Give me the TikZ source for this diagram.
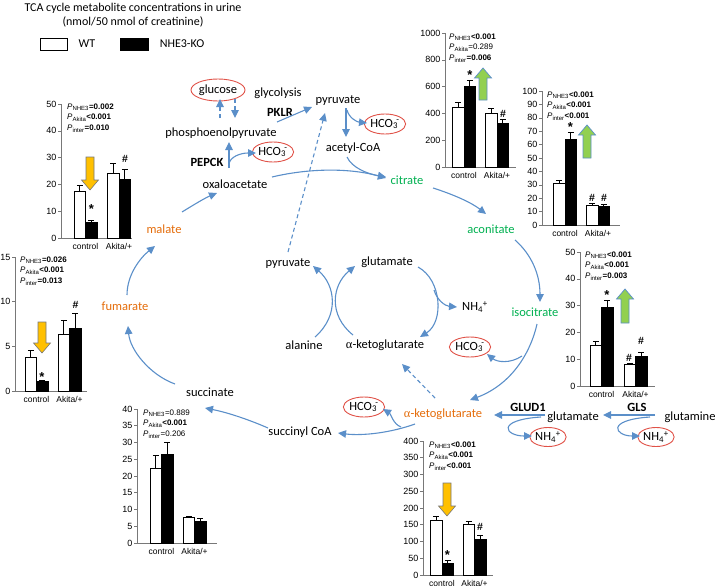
\documentclass[tikz,border=0pt]{standalone}
\usepackage{fontspec}
\setmainfont{Carlito}
\newfontfamily\chartfont{Liberation Sans}
\newfontfamily\grk{Liberation Serif}
\usetikzlibrary{arrows.meta,shapes.geometric}
\definecolor{flow}{RGB}{91,143,201}
\definecolor{ered}{RGB}{224,82,72}
\definecolor{orng}{RGB}{228,108,10}
\definecolor{grn}{RGB}{0,176,80}
\definecolor{yel}{RGB}{255,192,0}
\definecolor{lgrn}{RGB}{146,208,80}
\definecolor{axgray}{RGB}{120,120,120}
\tikzset{
  lbl/.style={font=\fontsize{12.5}{15}\selectfont, inner sep=0.5pt},
  enz/.style={font=\fontsize{12.5}{15}\selectfont\bfseries, inner sep=0.5pt},
  flowarr/.style={draw=flow, line width=1.1pt, -{Triangle[length=8pt,width=7.5pt]}},
  dasharr/.style={flowarr, dash pattern=on 4pt off 3pt},
  redell/.style={ellipse, draw=ered, line width=0.9pt, inner sep=0pt, font=\fontsize{12.5}{15}\selectfont},
  axline/.style={draw=axgray, line width=0.6pt},
  barln/.style={draw=black, line width=0.6pt},
  tick/.style={font=\chartfont\fontsize{9}{10}\selectfont, anchor=east, inner sep=0.5pt},
  cat/.style={font=\chartfont\fontsize{8.5}{10}\selectfont, inner sep=0.5pt},
  ptx/.style={font=\chartfont\fontsize{8}{9}\selectfont, anchor=west, inner sep=0pt},
  sig/.style={font=\chartfont\fontsize{13}{13}\selectfont\bfseries, inner sep=0pt},
  hsig/.style={font=\chartfont\fontsize{10.5}{11}\selectfont\bfseries, inner sep=0pt},
  bigarr/.style={draw=axgray, line width=0.6pt},
}
% axes of a chart: x0, y0, max, step, c1, c2, end
\newcommand\chartaxes[7]{%
  \draw[axline] (#1,#2-134) -- (#1,#2) -- (#7,#2);
  \foreach \v in {0,#4,...,#3}{%
    \pgfmathsetmacro\yy{#2-\v/#3*134}%
    \draw[axline] (#1-3,\yy) -- (#1,\yy);
    \node[tick] at (#1-4,\yy) {\v};}
  \node[cat] at (#5,#2+8) {control};
  \node[cat] at (#6,#2+8) {Akita/+};
}
% one bar: left x, y0, px per unit, value, error, fill
\newcommand\onebar[6]{%
  \pgfmathsetmacro\ytop{#2-#4*#3}%
  \pgfmathsetmacro\yerr{#2-(#4+#5)*#3}%
  \draw[barln] (#1+5.75,\ytop) -- (#1+5.75,\yerr) (#1+2.75,\yerr) -- (#1+8.75,\yerr);
  \draw[barln,fill=#6] (#1,#2) rectangle (#1+11.5,\ytop);
}
% P lines: x, y, sub, value
\newcommand\pline[4]{\node[ptx] at (#1,#2) {\textit{P}\textsubscript{#3}#4};}
% big arrows: x, ytop, ybottom, colour
\newcommand\downarr[4]{\draw[bigarr,fill=#4] (#1-4,#2) -- (#1+4,#2) -- (#1+4,#3-10) -- (#1+8.5,#3-10) -- (#1,#3) -- (#1-8.5,#3-10) -- (#1-4,#3-10) -- cycle;}
\newcommand\uparr[4]{\draw[draw=flow,line width=0.7pt,fill=#4] (#1,#2) -- (#1+8.5,#2+10) -- (#1+4,#2+10) -- (#1+4,#3) -- (#1-4,#3) -- (#1-4,#2+10) -- (#1-8.5,#2+10) -- cycle;}
\newcommand\hco{HCO\textsubscript{3}\kern-1.5pt\textsuperscript{-}}
\newcommand\nhf{NH\textsubscript{4}\textsuperscript{+}}
\newcommand\akg{{\grk α}-ketoglutarate}
\begin{document}
\begin{tikzpicture}[x=1pt,y=-1pt]
\useasboundingbox (0,0) rectangle (715,586);
% ---------- title and legend
\node[font=\fontsize{12}{14}\selectfont, align=center] (title) at (133,15) {TCA cycle metabolite concentrations in urine\\(nmol/50 nmol of creatinine)};
\draw[line width=0.8pt] (40,38) rectangle (67,50);
\node[font=\fontsize{12}{14}\selectfont] (wt) at (87,44) {WT};
\draw[line width=0.8pt, fill=black] (120,38) rectangle (148,50);
\node[font=\fontsize{12}{14}\selectfont] (ko) at (182,44) {NHE3-KO};
% ---------- chart A: malate
\begin{scope}[font=\chartfont]
\chartaxes{61}{238}{50}{10}{85.5}{119}{132}
\onebar{74}{238}{2.68}{17.4}{2.1}{white}
\onebar{85.5}{238}{2.68}{5.8}{0.8}{black}
\onebar{107.5}{238}{2.68}{24.2}{3.6}{white}
\onebar{119}{238}{2.68}{21.8}{3.8}{black}
\pline{67}{107}{NHE3}{\textbf{=0.002}}
\pline{67}{118}{Akita}{\textbf{<0.001}}
\pline{67}{129}{inter}{\textbf{=0.010}}
\downarr{90}{157}{190}{yel}
\node[sig] at (91.5,209) {*};
\node[hsig] at (125,159) {\#};
% ---------- chart B: fumarate
\chartaxes{15}{391}{15}{5}{36.5}{69.5}{87}
\onebar{25}{391}{8.9333}{3.75}{0.8}{white}
\onebar{36.5}{391}{8.9333}{1.05}{0.15}{black}
\onebar{58}{391}{8.9333}{6.4}{1.55}{white}
\onebar{69.5}{391}{8.9333}{7.0}{1.65}{black}
\pline{20}{260}{NHE3}{\textbf{=0.026}}
\pline{20}{271}{Akita}{\textbf{<0.001}}
\pline{20}{282}{inter}{\textbf{=0.013}}
\downarr{42}{322}{353}{yel}
\node[sig] at (42,377) {*};
\node[hsig] at (75.5,305) {\#};
% ---------- chart C: succinate
\chartaxes{137}{543}{40}{5}{161.5}{194.5}{217}
\onebar{150}{543}{3.35}{22.3}{4.0}{white}
\onebar{161.5}{543}{3.35}{26.4}{3.8}{black}
\onebar{183}{543}{3.35}{7.6}{0.3}{white}
\onebar{194.5}{543}{3.35}{6.6}{0.8}{black}
\pline{143}{413}{NHE3}{=0.889}
\pline{143}{424}{Akita}{\textbf{<0.001}}
\pline{143}{435}{inter}{=0.206}
% ---------- chart D: alpha-ketoglutarate
\chartaxes{423}{575}{400}{50}{442}{474.5}{493}
\onebar{430.5}{575}{0.335}{162}{13}{white}
\onebar{442}{575}{0.335}{35}{10}{black}
\onebar{463}{575}{0.335}{150}{10}{white}
\onebar{474.5}{575}{0.335}{108}{12}{black}
\pline{429}{445}{NHE3}{\textbf{<0.001}}
\pline{429}{456}{Akita}{\textbf{<0.001}}
\pline{429}{467}{inter}{\textbf{<0.001}}
\downarr{447}{483}{516}{yel}
\node[sig] at (447.5,555) {*};
\node[hsig] at (480,527) {\#};
% ---------- chart E: citrate
\chartaxes{445}{167}{1000}{200}{464}{497}{516}
\onebar{452.5}{167}{0.134}{445}{35}{white}
\onebar{464}{167}{0.134}{600}{45}{black}
\onebar{485.5}{167}{0.134}{400}{40}{white}
\onebar{497}{167}{0.134}{328}{25}{black}
\pline{449}{37}{NHE3}{\textbf{<0.001}}
\pline{449}{48}{Akita}{=0.289}
\pline{449}{59}{inter}{\textbf{=0.006}}
\uparr{483}{68}{100}{lgrn}
\node[sig] at (470,75) {*};
\node[hsig] at (503,114) {\#};
% ---------- chart F: aconitate
\chartaxes{542}{225}{100}{10}{565}{598}{620}
\onebar{553.5}{225}{1.34}{31}{2.5}{white}
\onebar{565}{225}{1.34}{64}{5.5}{black}
\onebar{586.5}{225}{1.34}{15}{1.2}{white}
\onebar{598}{225}{1.34}{14}{1.2}{black}
\pline{547}{95}{NHE3}{\textbf{<0.001}}
\pline{547}{106}{Akita}{\textbf{<0.001}}
\pline{547}{117}{inter}{\textbf{<0.001}}
\uparr{587}{125}{158}{lgrn}
\node[sig] at (570.5,127) {*};
\node[hsig] at (592,198) {\#};
\node[hsig] at (604,198) {\#};
% ---------- chart G: isocitrate
\chartaxes{580}{386}{50}{10}{601.5}{635.5}{655}
\onebar{590}{386}{2.68}{15.3}{1.3}{white}
\onebar{601.5}{386}{2.68}{29.5}{2.5}{black}
\onebar{624}{386}{2.68}{8.1}{0.5}{white}
\onebar{635.5}{386}{2.68}{11.1}{1.5}{black}
\pline{585}{255}{NHE3}{\textbf{<0.001}}
\pline{585}{266}{Akita}{\textbf{<0.001}}
\pline{585}{277}{inter}{\textbf{=0.003}}
\uparr{625}{289}{323}{lgrn}
\node[sig] at (607,295) {*};
\node[hsig] at (629,358) {\#};
\node[hsig] at (641,341) {\#};
\end{scope}
% ---------- pathway labels
\node[redell, minimum width=47pt, minimum height=22pt] (glc) at (218,90) {glucose};
\node[lbl] (glyc) at (278,93) {glycolysis};
\node[lbl] (pyr1) at (338,101) {pyruvate};
\node[enz] (pklr) at (280,112) {PKLR};
\node[redell, minimum width=38pt, minimum height=20pt] (hco1) at (385,124) {\hco};
\node[lbl] (pep) at (221,133) {phosphoenolpyruvate};
\node[lbl] (acoa) at (353,148) {acetyl-CoA};
\node[redell, minimum width=38pt, minimum height=20pt] (hco2) at (273,152) {\hco};
\node[enz] (pepck) at (207,162) {PEPCK};
\node[lbl] (oxa) at (235,184) {oxaloacetate};
\node[lbl, text=grn] (cit) at (407,180) {citrate};
\node[lbl, text=grn] (aco) at (491,229) {aconitate};
\node[lbl, text=orng] (mal) at (164,229) {malate};
\node[lbl] (pyr2) at (288,264) {pyruvate};
\node[lbl] (glu1) at (387,262) {glutamate};
\node[lbl] (nh1) at (475,307) {\nhf};
\node[lbl, text=grn] (icit) at (535,312) {isocitrate};
\node[lbl, text=orng] (fum) at (125,306) {fumarate};
\node[lbl] (ala) at (304,345) {alanine};
\node[lbl] (akg1) at (385,345) {\akg};
\node[redell, minimum width=36pt, minimum height=20pt] (hco3) at (470,347) {\hco};
\node[lbl] (succ) at (210,392) {succinate};
\node[redell, minimum width=36pt, minimum height=20pt] (hco4) at (364,407) {\hco};
\node[lbl] (scoa) at (300,432) {succinyl CoA};
\node[lbl, text=orng] (akg2) at (443,414) {\akg};
\node[enz] (glud) at (528,407) {GLUD1};
\node[lbl] (glu2) at (573,417) {glutamate};
\node[enz] (gls) at (637,407) {GLS};
\node[lbl] (gln) at (690,417) {glutamine};
\node[redell, minimum width=30pt, minimum height=19pt] (nh2) at (548,437) {\nhf};
\node[redell, minimum width=30pt, minimum height=19pt] (nh3) at (656,437) {\nhf};
% ---------- arrows top
\draw[dasharr] (220,118) -- (220,99);
\draw[dasharr] (235,99) -- (235,118);
\draw[flowarr] (277,122) -- (312,107);
\draw[flowarr] (346,108) -- (346,137);
\draw[flowarr] (347,110) .. controls (349,118) and (357,122) .. (367,123);
\draw[flowarr] (229,168) -- (229,142);
\draw[flowarr] (229,164) .. controls (230,157) and (240,153) .. (256,153);
\draw[flowarr] (347,157) .. controls (352,168) and (368,174) .. (386,177);
\draw[flowarr] (272,177) .. controls (310,168) and (350,168) .. (386,178);
\draw[dasharr] (288,252) -- (325,113);
\draw[flowarr] (182,212) .. controls (195,204) and (205,198) .. (217,193);
% cycle
\draw[flowarr] (433,188) .. controls (455,195) and (472,203) .. (486,214);
\draw[flowarr] (515,240) .. controls (532,255) and (540,275) .. (540,302);
\draw[flowarr] (537,324) .. controls (530,355) and (510,385) .. (470,400);
\draw[flowarr] (522,356) .. controls (510,364) and (497,362) .. (487,354);
\draw[dasharr] (435,398) -- (402,364);
\draw[flowarr] (415,424) .. controls (390,433) and (362,436) .. (338,433);
\draw[flowarr] (401,427) .. controls (393,424) and (391,414) .. (383,409);
\draw[flowarr] (268,428) .. controls (245,418) and (225,412) .. (205,408);
\draw[flowarr] (175,384) .. controls (150,375) and (130,350) .. (128,326);
\draw[flowarr] (127,295) .. controls (127,275) and (140,258) .. (155,246);
% centre
\draw[flowarr] (315,337) .. controls (340,315) and (335,285) .. (313,266);
\draw[flowarr] (353,335) .. controls (328,315) and (332,285) .. (355,266);
\draw[flowarr] (418,267) .. controls (442,280) and (444,322) .. (420,337);
\draw[flowarr] (434,290) .. controls (437,300) and (445,306) .. (457,307);
% bottom right
\draw[flowarr] (545,415) -- (494,415);
\draw[flowarr] (541,417) .. controls (495,420) and (505,436) .. (532,436);
\draw[flowarr] (655,415) -- (603,415);
\draw[flowarr] (650,417) .. controls (605,420) and (615,436) .. (640,436);
\end{tikzpicture}
\end{document}
